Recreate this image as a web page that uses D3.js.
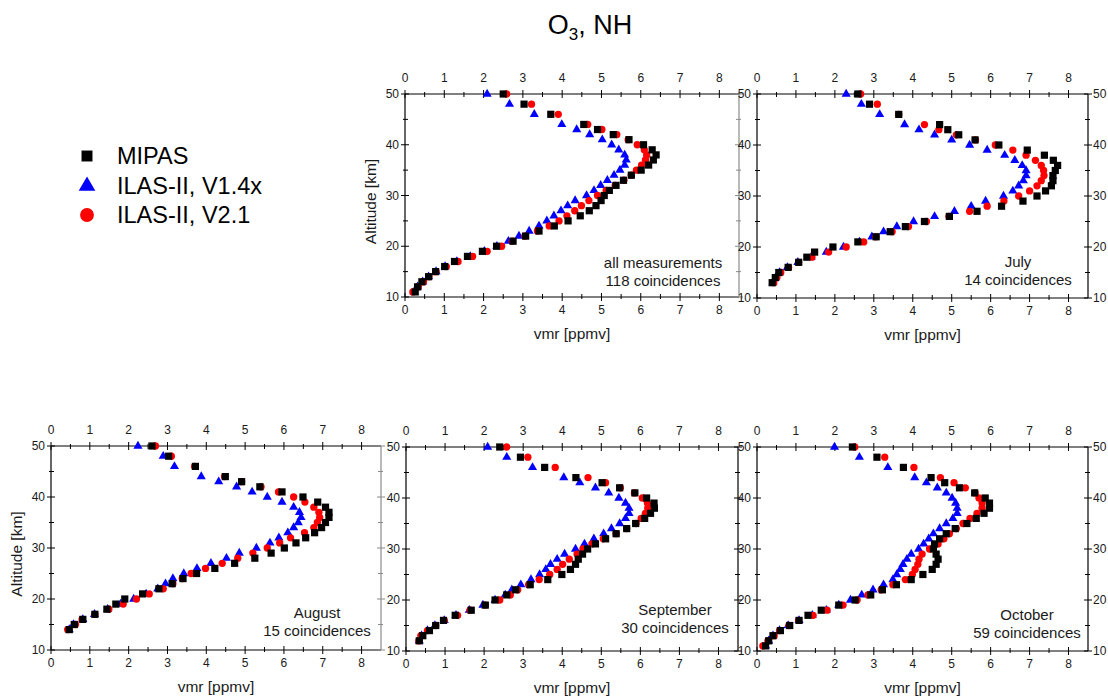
<!DOCTYPE html>
<html><head><meta charset="utf-8">
<script src="https://cdn.jsdelivr.net/npm/d3@7"></script>
<style>body{margin:0;background:#fff} svg{display:block} text{font-family:"Liberation Sans",Arial,Helvetica,sans-serif}</style>
</head><body><svg id="c" width="1108" height="697"></svg>
<script>
// ---------------- data ----------------
const altitudes = [50,48,46,44,43,42,41,40,39,38,37,36,35,34,33,32,31,30,29,28,27,26,25,24,23,22,21,20,19,18,17,16,15,14,13,12,11];
const xTickValues = [0,1,2,3,4,5,6,7,8];
const yTickValues = [10,20,30,40,50];
const seriesNames = ["MIPAS", "ILAS-II, V1.4x", "ILAS-II, V2.1"];
const panelNames = ["all measurements", "July", "August", "September", "October"];
const coincidences = [118, 14, 15, 30, 59];

const mipasAll   = [2.50,3.03,3.71,4.55,4.90,5.30,5.70,6.07,6.29,6.39,6.32,6.20,6.01,5.76,5.56,5.37,5.20,5.07,4.99,4.86,4.69,4.46,4.15,3.80,3.41,3.07,2.75,2.33,1.97,1.59,1.26,1.01,0.78,0.60,0.43,0.32,0.26];
const ilasV14All = [2.09,2.66,3.29,3.99,4.37,4.70,5.02,5.26,5.44,5.59,5.63,5.59,5.47,5.32,5.15,4.98,4.81,4.62,4.33,4.14,3.97,3.79,3.61,3.41,3.16,2.90,2.63,2.34,2.02,1.66,1.32,1.02,0.79,0.60,0.45,0.32,0.23];
const ilasV21All = [2.59,3.22,3.90,4.65,5.01,5.39,5.68,5.91,6.09,6.15,6.12,6.02,5.89,5.76,5.57,5.35,5.12,4.90,4.68,4.49,4.32,4.12,3.92,3.67,3.37,3.05,2.73,2.46,2.09,1.72,1.35,1.05,0.79,0.61,0.47,0.34,0.20];

const mipasJul   = [2.59,2.89,3.64,4.69,4.90,5.18,5.60,6.21,6.94,7.38,7.61,7.72,7.66,7.60,7.60,7.56,7.41,7.19,6.83,6.28,5.65,4.94,4.30,3.81,3.42,3.06,2.59,1.95,1.48,1.28,1.07,0.80,0.56,0.47,0.39];
const ilasV14Jul = [2.29,2.68,3.15,3.79,4.16,4.56,5.00,5.46,5.91,6.36,6.62,6.81,6.91,6.91,6.84,6.72,6.57,6.33,5.87,5.50,5.07,4.56,4.02,3.59,3.25,2.95,2.63,2.22,1.78,1.39,1.05,0.78,0.58,0.48,0.41];
const ilasV21Jul = [2.66,3.09,3.64,4.30,4.67,5.12,5.61,6.12,6.57,6.91,7.15,7.30,7.36,7.37,7.30,7.19,7.00,6.72,6.34,5.91,5.46,4.93,4.35,3.89,3.47,3.05,2.74,2.29,1.84,1.41,1.07,0.81,0.61,0.51,0.43];

const mipasAug   = [2.60,3.03,3.72,4.49,4.91,5.38,5.95,6.49,6.87,7.07,7.16,7.16,7.07,6.97,6.79,6.56,6.31,6.01,5.67,5.25,4.73,4.22,3.75,3.40,3.12,2.78,2.36,1.90,1.67,1.44,1.13,0.82,0.60,0.47];
const ilasV14Aug = [2.24,2.89,3.18,3.87,4.32,4.78,5.18,5.57,5.95,6.25,6.40,6.44,6.37,6.25,6.10,5.87,5.64,5.29,4.85,4.52,4.12,3.76,3.42,3.14,2.95,2.75,2.45,2.13,1.79,1.46,1.12,0.82,0.58,0.47];
const ilasV21Aug = [2.69,3.10,3.70,4.47,4.91,5.41,5.86,6.25,6.54,6.77,6.90,6.92,6.86,6.77,6.53,6.17,5.89,5.57,5.20,4.81,4.41,3.98,3.61,3.38,3.14,2.89,2.53,2.20,1.86,1.49,1.13,0.80,0.63,0.43];

const mipasSep   = [2.40,2.93,3.55,4.35,5.02,5.47,5.86,6.16,6.35,6.36,6.26,6.11,5.88,5.65,5.38,5.11,4.85,4.65,4.52,4.41,4.34,4.21,3.99,3.63,3.18,2.81,2.58,2.28,2.03,1.67,1.26,0.96,0.76,0.60,0.43,0.34];
const ilasV14Sep = [2.09,2.58,3.24,4.04,4.45,4.85,5.19,5.45,5.62,5.71,5.71,5.62,5.47,5.26,5.06,4.81,4.57,4.34,4.06,3.87,3.70,3.58,3.42,3.20,2.94,2.71,2.54,2.28,1.97,1.62,1.28,0.98,0.74,0.55,0.40,0.34];
const ilasV21Sep = [2.58,3.12,3.82,4.66,5.11,5.49,5.85,6.05,6.18,6.19,6.13,6.02,5.89,5.65,5.38,5.05,4.76,4.53,4.38,4.18,4.01,3.87,3.68,3.41,3.14,2.86,2.67,2.40,2.03,1.64,1.32,0.98,0.76,0.55,0.38,0.33];

const mipasOct   = [2.45,3.08,3.76,4.47,4.82,5.20,5.59,5.86,5.97,5.97,5.83,5.63,5.39,5.09,4.86,4.69,4.56,4.53,4.60,4.65,4.60,4.50,4.26,3.96,3.58,3.22,2.92,2.52,2.10,1.65,1.31,1.08,0.84,0.60,0.41,0.30,0.22];
const ilasV14Oct = [1.99,2.63,3.36,4.05,4.35,4.63,4.86,5.01,5.10,5.14,5.14,5.03,4.86,4.69,4.53,4.41,4.28,4.15,3.96,3.85,3.75,3.68,3.59,3.49,3.25,2.98,2.69,2.40,2.10,1.78,1.42,1.08,0.80,0.58,0.41,0.30,0.22];
const ilasV21Oct = [2.51,3.28,4.03,4.71,5.06,5.35,5.60,5.70,5.78,5.78,5.65,5.47,5.29,5.12,4.94,4.80,4.65,4.43,4.24,4.16,4.13,4.06,3.99,3.81,3.49,3.19,2.85,2.57,2.21,1.80,1.44,1.07,0.82,0.58,0.44,0.28,0.15];

// ---------------- layout ----------------
const panelData = [
  {mipas: mipasAll, v14: ilasV14All, v21: ilasV21All},
  {mipas: mipasJul, v14: ilasV14Jul, v21: ilasV21Jul},
  {mipas: mipasAug, v14: ilasV14Aug, v21: ilasV21Aug},
  {mipas: mipasSep, v14: ilasV14Sep, v21: ilasV21Sep},
  {mipas: mipasOct, v14: ilasV14Oct, v21: ilasV21Oct}
];
const layout = [
  {x:405, y:94,  w:334, h:203, annX:663,  annY:268, yTitle:true,  rightLabels:false, rightColor:"#8a8a8a"},
  {x:757, y:94,  w:331, h:204, annX:1018, annY:267, yTitle:false, rightLabels:true,  rightColor:"#000"},
  {x:51,  y:446, w:330, h:204, annX:317,  annY:618, yTitle:true,  rightLabels:false, rightColor:"#8a8a8a"},
  {x:406, y:447, w:332, h:204, annX:675,  annY:615, yTitle:false, rightLabels:false, rightColor:"#000"},
  {x:757, y:447, w:331, h:204, annX:1027, annY:620, yTitle:false, rightLabels:true,  rightColor:"#000"}
];
const COLORS = {mipas:"#000000", v14:"#0000ff", v21:"#ff0000"};
const TXT = "#1a1a1a";

const svg = d3.select("#c");
svg.append("rect").attr("width",1108).attr("height",697).attr("fill","#fff");

// title
const title = svg.append("text").attr("x",590).attr("y",34).attr("text-anchor","middle")
  .attr("font-size",27).attr("fill","#000");
title.append("tspan").text("O");
title.append("tspan").attr("font-size",17).attr("dy",6).text("3");
title.append("tspan").attr("dy",-6).text(", NH");

// legend
const leg = svg.append("g");
const legSym = [d3.symbolSquare, d3.symbolTriangle, d3.symbolCircle];
const legSize = [120, 120, 150];
const legCol = [COLORS.mipas, COLORS.v14, COLORS.v21];
const legY = [156, 186, 215];
seriesNames.forEach((n,i)=>{
  leg.append("path").attr("d", d3.symbol().type(legSym[i]).size(legSize[i])())
    .attr("transform",`translate(87,${legY[i]})`).attr("fill",legCol[i]);
  leg.append("text").attr("x",117).attr("y",legY[i]+8).attr("font-size",23.5).attr("fill","#000").text(n);
});

function drawPanel(i){
  const L = layout[i], D = panelData[i];
  const g = svg.append("g");
  const x = d3.scaleLinear().domain([0,8.5]).range([L.x, L.x+L.w]);
  const y = d3.scaleLinear().domain([10,50]).range([L.y+L.h, L.y]);
  const x0=L.x, x1=L.x+L.w, y0=L.y, y1=L.y+L.h;
  // box
  g.append("line").attr("x1",x0).attr("x2",x1).attr("y1",y0).attr("y2",y0).attr("stroke","#000");
  g.append("line").attr("x1",x0).attr("x2",x1).attr("y1",y1).attr("y2",y1).attr("stroke","#000");
  g.append("line").attr("x1",x0).attr("x2",x0).attr("y1",y0).attr("y2",y1).attr("stroke","#000").attr("stroke-width",1.2);
  g.append("line").attr("x1",x1).attr("x2",x1).attr("y1",y0).attr("y2",y1).attr("stroke",L.rightColor).attr("stroke-width",1.2);
  // x ticks
  const xMinor = d3.range(0.5, 8.5, 1);
  xTickValues.forEach(v=>{
    const px=x(v);
    g.append("line").attr("x1",px).attr("x2",px).attr("y1",y0-4).attr("y2",y0+4).attr("stroke","#000");
    g.append("line").attr("x1",px).attr("x2",px).attr("y1",y1-4).attr("y2",y1+4).attr("stroke","#000");
    g.append("text").attr("x",px).attr("y",y0-12).attr("text-anchor","middle").attr("font-size",12).attr("fill",TXT).text(v);
    g.append("text").attr("x",px).attr("y",y1+17).attr("text-anchor","middle").attr("font-size",12).attr("fill",TXT).text(v);
  });
  xMinor.forEach(v=>{
    const px=x(v);
    g.append("line").attr("x1",px).attr("x2",px).attr("y1",y0-2).attr("y2",y0+3).attr("stroke","#000");
    g.append("line").attr("x1",px).attr("x2",px).attr("y1",y1-3).attr("y2",y1+2).attr("stroke","#000");
  });
  // y ticks
  const yMinor = [15,25,35,45];
  yTickValues.forEach(v=>{
    const py=y(v);
    g.append("line").attr("x1",x0-4).attr("x2",x0+4).attr("y1",py).attr("y2",py).attr("stroke","#000");
    g.append("line").attr("x1",x1-4).attr("x2",x1+4).attr("y1",py).attr("y2",py).attr("stroke",L.rightColor);
    g.append("text").attr("x",x0-6).attr("y",py+4).attr("text-anchor","end").attr("font-size",12).attr("fill",TXT).text(v);
    if(L.rightLabels) g.append("text").attr("x",x1+5).attr("y",py+4).attr("text-anchor","start").attr("font-size",12).attr("fill",TXT).text(v);
  });
  yMinor.forEach(v=>{
    const py=y(v);
    g.append("line").attr("x1",x0-2).attr("x2",x0+3).attr("y1",py).attr("y2",py).attr("stroke","#000");
    g.append("line").attr("x1",x1-3).attr("x2",x1+2).attr("y1",py).attr("y2",py).attr("stroke",L.rightColor);
  });
  // axis titles
  g.append("text").attr("x",(x0+x1)/2).attr("y",y1+42).attr("text-anchor","middle").attr("font-size",15.5).attr("fill",TXT).text("vmr [ppmv]");
  if(L.yTitle){
    const cy=(y0+y1)/2+6, cx=x0-29;
    g.append("text").attr("transform",`translate(${cx},${cy}) rotate(-90)`).attr("text-anchor","middle")
      .attr("font-size",15.5).attr("fill",TXT).text("Altitude [km]");
  }
  // annotation
  g.append("text").attr("x",L.annX).attr("y",L.annY).attr("text-anchor","middle").attr("font-size",15).attr("fill",TXT).text(panelNames[i]);
  g.append("text").attr("x",L.annX).attr("y",L.annY+18).attr("text-anchor","middle").attr("font-size",15).attr("fill",TXT).text(coincidences[i]+" coincidences");
  // markers
  const series = [
    {vals:D.v14, type:d3.symbolTriangle, size:36, color:COLORS.v14},
    {vals:D.v21, type:d3.symbolCircle, size:42, color:COLORS.v21},
    {vals:D.mipas, type:d3.symbolSquare, size:52, color:COLORS.mipas}
  ];
  series.forEach(s=>{
    const pts = s.vals.map((v,k)=>({v, a:altitudes[k]}));
    g.append("g").selectAll("path").data(pts).join("path")
      .attr("d", d3.symbol().type(s.type).size(s.size)())
      .attr("transform", d=>`translate(${x(d.v)},${y(d.a)})`)
      .attr("fill", s.color);
  });
}
[0,1,2,3,4].forEach(drawPanel);
</script></body></html>
